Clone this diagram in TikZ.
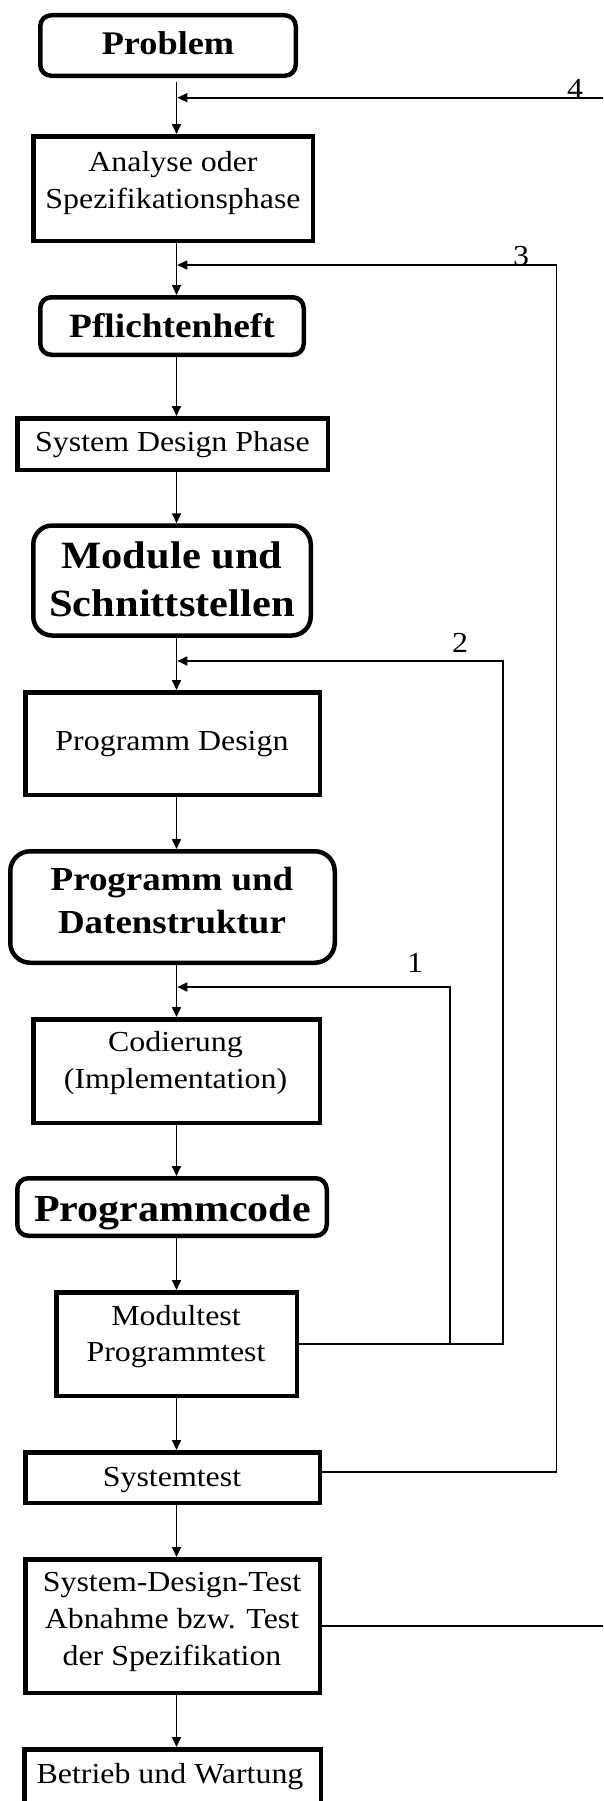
\documentclass[tikz,border=0pt]{standalone}
\usepackage{fontspec}
\setmainfont{Liberation Serif}[FakeStretch=1.1]
\usetikzlibrary{arrows.meta}

% centred block of lines with fixed strut spacing
\newcommand{\boxlines}[1]{\begin{tabular}{@{}c@{}}#1\end{tabular}}

\begin{document}
\begin{tikzpicture}[x=1pt, y=-1pt,
  box/.style={draw, line width=4.5pt, inner sep=0pt},
  txt/.style={inner sep=0pt, font=\fontsize{29}{36.7}\selectfont},
  btxt/.style 2 args={inner sep=0pt, font=\fontsize{#1}{#2}\selectfont\bfseries},
  flow/.style={line width=1.7pt, -{Triangle[length=10pt,width=9pt]}},
  num/.style={inner sep=0pt, anchor=base, font=\fontsize{29}{34}\selectfont}]

\useasboundingbox (0,0) rectangle (603,1801);
\clip (0,0) rectangle (603,1801);

% ---- boxes of the phases and their results
\node[box, rounded corners=11pt, minimum width=255.5pt, minimum height=60.5pt] (prob) at (168,45.5) {};
\node[btxt={33}{40}] (probt) at (168,47) {\boxlines{Problem}};

\node[box, minimum width=279.5pt, minimum height=104.5pt] (ana) at (173,188.5) {};
\node[txt] (anat) at (173,182.7) {\boxlines{Analyse oder\\Spezifikationsphase}};

\node[box, rounded corners=11pt, minimum width=263.5pt, minimum height=57.5pt] (pfl) at (172,326) {};
\node[btxt={34}{40}] (pflt) at (172,329) {\boxlines{Pflichtenheft}};

\node[box, minimum width=310.5pt, minimum height=51.5pt] (sdp) at (172.5,444) {};
\node[txt] (sdpt) at (172.5,444.4) {\boxlines{System Design Phase}};

\node[box, rounded corners=19pt, minimum width=277.5pt, minimum height=110pt] (mod) at (172,580.5) {};
\node[btxt={38.6}{48.3}] (modt) at (172,582.8) {\boxlines{Module und\\Schnittstellen}};

\node[box, minimum width=294.5pt, minimum height=102.5pt] (pd) at (172.5,743.5) {};
\node[txt] (pdt) at (172,742.7) {\boxlines{Programm Design}};

\node[box, rounded corners=20pt, minimum width=324.5pt, minimum height=111.5pt] (pud) at (172.5,907) {};
\node[btxt={33.6}{43.3}] (pudt) at (172,903) {\boxlines{Programm und\\Datenstruktur}};

\node[box, minimum width=286.5pt, minimum height=103.5pt] (cod) at (176.5,1071) {};
\node[txt] (codt) at (175.5,1062.7) {\boxlines{Codierung\\(Implementation)}};

\node[box, rounded corners=11pt, minimum width=309.5pt, minimum height=57.5pt] (pc) at (172,1207) {};
\node[btxt={38.2}{44}] (pct) at (172.5,1212.9) {\boxlines{Programmcode}};

\node[box, minimum width=240.5pt, minimum height=103.5pt] (mt) at (176.5,1344) {};
\node[txt] (mtt) at (176,1336) {\boxlines{Modultest\\Programmtest}};

\node[box, minimum width=294.5pt, minimum height=50.5pt] (st) at (172.5,1477.5) {};
\node[txt] (stt) at (172,1478.7) {\boxlines{Systemtest}};

\node[box, minimum width=294.5pt, minimum height=133.5pt] (sdt) at (172.5,1626) {};
\node[txt] (sdtt) at (172,1621.1) {\boxlines{System-Design-Test\\Abnahme bzw. Test\\der Spezifikation}};

\node[box, minimum width=296.5pt, minimum height=54.5pt] (bw) at (172.5,1776.5) {};
\node[txt] (bwt) at (170,1775.7) {\boxlines{Betrieb und Wartung}};

% ---- main flow down the spine
\coordinate (spine) at (176.5,0);
\coordinate (spineR) at (177.3,0);

\draw[flow, shorten <=4pt] (prob.south -| spine) -- (ana.north -| spine);
\draw[flow] (ana.south -| spine) -- (pfl.north -| spine);
\draw[flow] (pfl.south -| spine) -- (sdp.north -| spine);
\draw[flow] (sdp.south -| spine) -- (mod.north -| spine);
\draw[flow] (mod.south -| spine) -- (pd.north -| spine);
\draw[flow] (pd.south -| spine) -- (pud.north -| spine);
\draw[flow] (pud.south -| spine) -- (cod.north -| spine);
\draw[flow] (cod.south -| spine) -- (pc.north -| spine);
\draw[flow] (pc.south -| spine) -- (mt.north -| spine);
\draw[flow] (mt.south -| spine) -- (st.north -| spine);
\draw[flow] (st.south -| spine) -- (sdt.north -| spine);
\draw[flow] (sdt.south -| spine) -- (bw.north -| spine);

% ---- feedback loops back into the spine
\coordinate (k1) at (450,987);
\coordinate (k2) at (503,661);
\coordinate (k3) at (556.5,265);
\coordinate (k4) at (612,97.7);

\draw[flow] (mt.east) -| (k1) -- (k1 -| spineR);
\draw[flow] (mt.east) -| (k2) -- (k2 -| spineR);
\draw[flow] ([yshift=5.5pt]st.east) -| (k3) -- (k3 -| spineR);
\draw[flow] (sdt.east) -| (k4) -- (k4 -| spineR);

\node[num] (n1) at (415,972) {1};
\node[num] (n2) at (460,652) {2};
\node[num] (n3) at (521,265) {3};
\node[num] (n4) at (575,98.5) {4};
\end{tikzpicture}
\end{document}
